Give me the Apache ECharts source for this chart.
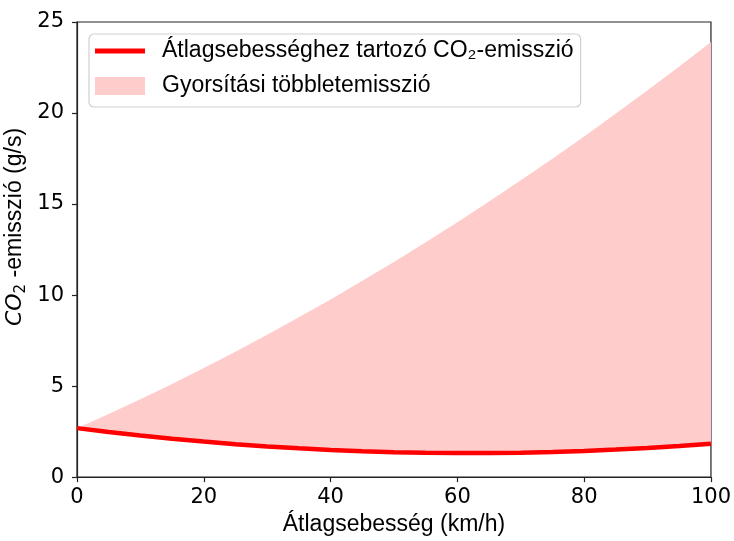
<!DOCTYPE html>
<html>
<head>
<meta charset="utf-8">
<script src="https://cdn.jsdelivr.net/npm/echarts@6/dist/echarts.min.js"></script>
<style>html,body{margin:0;padding:0;background:#fff}#c{width:734px;height:541px}</style>
</head>
<body>
<div id="c"></div>
<script>
// Average speed (km/h)
var speeds = [0,5,10,15,20,25,30,35,40,45,50,55,60,65,70,75,80,85,90,95,100];
// CO2 emission at average speed (g/s)
var avgEmission = [2.69,2.48,2.28,2.11,1.95,1.81,1.68,1.58,1.49,1.42,1.37,1.34,1.32,1.32,1.34,1.38,1.44,1.51,1.60,1.71,1.83];
// Upper bound incl. acceleration extra emission (g/s)
var upperEmission = [2.69,3.47,4.28,5.12,5.99,6.89,7.82,8.78,9.76,10.78,11.82,12.90,14.00,15.14,16.30,17.49,18.71,19.97,21.25,22.56,23.90];
var xTicks = [0,20,40,60,80,100];
var yTicks = [0,5,10,15,20,25];

var nameLine = 'Átlagsebességhez tartozó CO₂-emisszió';
var nameBand = 'Gyorsítási többletemisszió';

var bandData = speeds.map(function(v,i){return [v, avgEmission[i], upperEmission[i]];});
var linePts = speeds.map(function(v,i){return [v, avgEmission[i]];});

var chart = echarts.init(document.getElementById('c'), null, {renderer:'canvas'});
var sans = '"Liberation Sans", Arial, Helvetica, sans-serif';
var tickFont = '"DejaVu Sans", sans-serif';
chart.setOption({
  animation:false,
  backgroundColor:'#fff',
  grid:{left:77,right:23,top:22,bottom:63,show:true,borderColor:'#222',borderWidth:1.2,backgroundColor:'transparent'},
  xAxis:{
    type:'value',min:xTicks[0],max:xTicks[xTicks.length-1],interval:20,
    name:'Átlagsebesség (km/h)',nameLocation:'middle',nameGap:34,
    nameTextStyle:{fontFamily:sans,fontSize:23,color:'#000'},
    axisLine:{show:true,lineStyle:{color:'#222',width:1.2}},
    axisTick:{show:true,inside:false,length:5,lineStyle:{color:'#222',width:1.2}},
    axisLabel:{fontFamily:tickFont,fontSize:21,color:'#000',margin:10},
    splitLine:{show:false}
  },
  yAxis:{
    type:'value',min:yTicks[0],max:yTicks[yTicks.length-1],interval:5,
    axisLine:{show:true,lineStyle:{color:'#222',width:1.2}},
    axisTick:{show:true,inside:false,length:5,lineStyle:{color:'#222',width:1.2}},
    axisLabel:{fontFamily:tickFont,fontSize:21,color:'#000',margin:13},
    splitLine:{show:false}
  },
  legend:{
    orient:'vertical',left:89,top:34,
    data:[
      {name:nameLine,icon:'path://M0,0 L50,0 L50,5 L0,5 Z',itemStyle:{color:'#ff0000'}},
      {name:nameBand,icon:'rect',itemStyle:{color:'#ffcccc'}}
    ],
    itemWidth:50,itemHeight:18,itemGap:9,symbolKeepAspect:true,
    padding:[4,7,8,6],
    borderColor:'#d0d0d0',borderWidth:1.2,borderRadius:5,backgroundColor:'rgba(255,255,255,0.8)',
    textStyle:{fontFamily:sans,fontSize:23,color:'#000',lineHeight:26,padding:[0,0,0,12]},
    selectedMode:false
  },
  graphic:[{
    type:'text',x:15,y:227,rotation:Math.PI/2,
    style:{
      text:'{it|CO}{sub|2}{n| -emisszió (g/s)}',
      align:'center',verticalAlign:'middle',
      rich:{
        it:{fontFamily:'"DejaVu Sans", sans-serif',fontStyle:'italic',fontSize:22,lineHeight:28,fill:'#000'},
        sub:{fontFamily:'"DejaVu Sans", sans-serif',fontSize:15,verticalAlign:'bottom',fill:'#000'},
        n:{fontFamily:sans,fontSize:23,lineHeight:28,fill:'#000'}
      }
    }
  }],
  series:[
    {name:nameBand,type:'custom',data:bandData,silent:true,z:1,
     color:'#ffcccc',
     encode:{x:0,y:[1,2]},
     renderItem:function(params, api){
       if (params.dataIndex !== 0) return null;
       var pts = [];
       for (var i=0;i<bandData.length;i++) pts.push(api.coord([bandData[i][0], bandData[i][2]]));
       for (var j=bandData.length-1;j>=0;j--) pts.push(api.coord([bandData[j][0], bandData[j][1]]));
       return {type:'polygon',shape:{points:pts},style:{fill:'#ffcccc',stroke:null}};
     }},
    {name:nameLine,type:'line',data:linePts,symbol:'none',smooth:false,
     color:'#ff0000',lineStyle:{color:'#ff0000',width:4.5},z:3}
  ]
});
</script>
</body>
</html>
